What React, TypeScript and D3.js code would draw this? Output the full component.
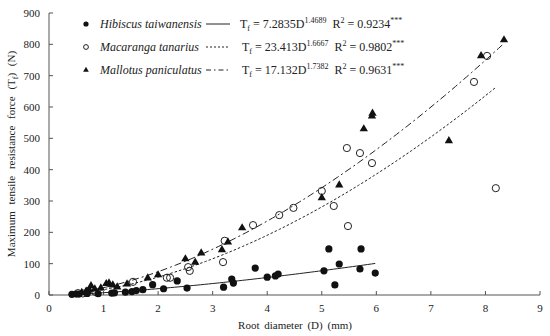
import React from "react";
import * as d3 from "d3";

// 読み取り値 (D mm, Tf N)
const hibiscusD = [0.42, 0.5, 0.55, 0.7, 0.72, 0.9, 1.15, 1.2, 1.4, 1.52, 1.6, 1.72, 1.9, 2.1, 2.35, 2.53, 3.2, 3.35, 3.38, 3.78, 4.0, 4.15, 4.2, 5.04, 5.13, 5.24, 5.32, 5.7, 5.72, 5.98];
const hibiscusT = [2, 3, 3, 5, 14, 4, 6, 7, 9, 11, 14, 17, 33, 20, 45, 22, 25, 51, 38, 86, 57, 61, 67, 77, 147, 32, 99, 83, 147, 70];

const macarangaD = [0.53, 0.62, 0.85, 1.54, 2.16, 2.22, 2.55, 2.58, 3.19, 3.22, 3.74, 4.22, 4.48, 5.0, 5.22, 5.46, 5.48, 5.7, 5.92, 7.79, 8.03, 8.19];
const macarangaT = [6, 5, 10, 42, 55, 55, 89, 77, 105, 173, 223, 255, 278, 332, 284, 469, 220, 453, 421, 680, 763, 341];

const mallotusD = [0.6, 0.68, 0.77, 0.84, 0.95, 1.05, 1.1, 1.17, 1.25, 1.43, 1.81, 2.0, 2.5, 2.68, 2.79, 3.17, 3.28, 3.54, 5.0, 5.32, 5.77, 5.92, 5.93, 7.33, 7.92, 8.34];
const mallotusT = [8, 12, 29, 19, 22, 36, 38, 32, 25, 35, 54, 64, 115, 104, 134, 144, 169, 214, 310, 351, 530, 571, 580, 492, 763, 814];

const speciesNames = ["Hibiscus taiwanensis", "Macaranga tanarius", "Mallotus paniculatus"];
const eqCoef = ["7.2835", "23.413", "17.132"];
const eqExp = ["1.4689", "1.6667", "1.7382"];
const eqR2 = ["0.9234", "0.9802", "0.9631"];

// 描かれている曲線 (図中の線種と式の対応そのまま)
const curveA = [7.2835, 17.132, 23.413];
const curveB = [1.4689, 1.7382, 1.6667];
const curveFrom = [0.42, 0.45, 0.45];
const curveTo = [5.98, 8.19, 8.34];
const dashes = ["none", "2.5,2", "7,3,2,3"];

const xTicks = [0, 1, 2, 3, 4, 5, 6, 7, 8, 9];
const yTicks = [0, 100, 200, 300, 400, 500, 600, 700, 800, 900];

export default function App() {
  const width = 550,
    height = 336;
  const x = d3.scaleLinear().domain([0, 9]).range([49, 540]);
  const y = d3.scaleLinear().domain([0, 900]).range([295, 13]);
  const font = "'Liberation Serif', 'Times New Roman', serif";
  const ink = "#222";
  const axisCol = "#555";

  const tri = d3.symbol().type(d3.symbolTriangle).size(30)();
  const triSmall = d3.symbol().type(d3.symbolTriangle).size(14)();

  const curvePath = (i: number) => {
    const pts: [number, number][] = [];
    const n = 80;
    for (let k = 0; k <= n; k++) {
      const d = curveFrom[i] + ((curveTo[i] - curveFrom[i]) * k) / n;
      pts.push([x(d), y(curveA[i] * Math.pow(d, curveB[i]))]);
    }
    return d3.line()(pts);
  };

  const rowY = [28, 51, 74];

  return (
    <svg
      width={width}
      height={height}
      style={{ position: "absolute", left: 0, top: 0, background: "#fff", fontFamily: font }}
    >
      {/* 軸 */}
      <line x1={49} x2={540} y1={295} y2={295} stroke={axisCol} />
      <line x1={49} x2={49} y1={13} y2={295} stroke={axisCol} />
      {xTicks.map((t) => (
        <g key={"x" + t}>
          <line x1={x(t)} x2={x(t)} y1={295} y2={291} stroke={axisCol} />
          <text x={x(t)} y={312} fontSize={11} textAnchor="middle" fill={ink} style={{ fontFamily: font }}>
            {t}
          </text>
        </g>
      ))}
      {yTicks.map((t) => (
        <g key={"y" + t}>
          <line x1={49} x2={53} y1={y(t)} y2={y(t)} stroke={axisCol} />
          <text x={40} y={y(t) + 4} fontSize={11} textAnchor="end" fill={ink} style={{ fontFamily: font }}>
            {t}
          </text>
        </g>
      ))}
      <text x={295} y={329} fontSize={11} textAnchor="middle" fill={ink} style={{ wordSpacing: "2px", fontFamily: font }}>
        Root diameter (D) (mm)
      </text>
      <text
        transform={`translate(15,154) rotate(-90)`}
        fontSize={11}
        textAnchor="middle"
        fill={ink}
        style={{ wordSpacing: "4px", fontFamily: font }}
      >
        Maximum tensile resistance force (T
        <tspan fontSize={8} dy={3}>f</tspan>
        <tspan dy={-3}>) (N)</tspan>
      </text>

      {/* 曲線 */}
      {curveA.map((_, i) => (
        <path
          key={"c" + i}
          d={curvePath(i) || ""}
          fill="none"
          stroke="#222"
          strokeWidth={1}
          strokeDasharray={dashes[i]}
        />
      ))}

      {/* 点 */}
      {macarangaD.map((d, i) => (
        <circle key={"m" + i} cx={x(d)} cy={y(macarangaT[i])} r={3.6} fill="none" stroke="#222" strokeWidth={1} />
      ))}
      {mallotusD.map((d, i) => (
        <path key={"p" + i} d={tri || ""} transform={`translate(${x(d)},${y(mallotusT[i])})`} fill="#111" />
      ))}
      {hibiscusD.map((d, i) => (
        <circle key={"h" + i} cx={x(d)} cy={y(hibiscusT[i])} r={3.6} fill="#111" />
      ))}

      {/* 凡例 */}
      {speciesNames.map((name, i) => (
        <g key={"l" + i}>
          {i === 0 && <circle cx={86} cy={rowY[i] - 4} r={2.6} fill="#111" />}
          {i === 1 && <circle cx={86} cy={rowY[i] - 4} r={2.4} fill="none" stroke="#222" />}
          {i === 2 && <path d={triSmall || ""} transform={`translate(86,${rowY[i] - 4})`} fill="#111" />}
          <text x={100} y={rowY[i]} fontSize={12} fontStyle="italic" fill={ink} style={{ fontFamily: font }}>
            {name}
          </text>
          <line
            x1={206}
            x2={230}
            y1={rowY[i] - 4}
            y2={rowY[i] - 4}
            stroke="#222"
            strokeDasharray={i === 0 ? "none" : i === 1 ? "2,2" : "5,3,1.5,3"}
          />
          <text x={240 + (i === 0 ? 0 : 2)} y={rowY[i]} fontSize={12} fill={ink} style={{ fontFamily: font }}>
            T<tspan fontSize={8} dy={3}>f</tspan>
            <tspan dy={-3}> = {eqCoef[i]}D</tspan>
            <tspan fontSize={8} dy={-5}>{eqExp[i]}</tspan>
            <tspan dy={5}>{"\u00a0\u00a0"}R</tspan>
            <tspan fontSize={8} dy={-5}>2</tspan>
            <tspan dy={5}> = {eqR2[i]}</tspan>
            <tspan fontSize={8} dy={-5}>***</tspan>
          </text>
        </g>
      ))}
    </svg>
  );
}
